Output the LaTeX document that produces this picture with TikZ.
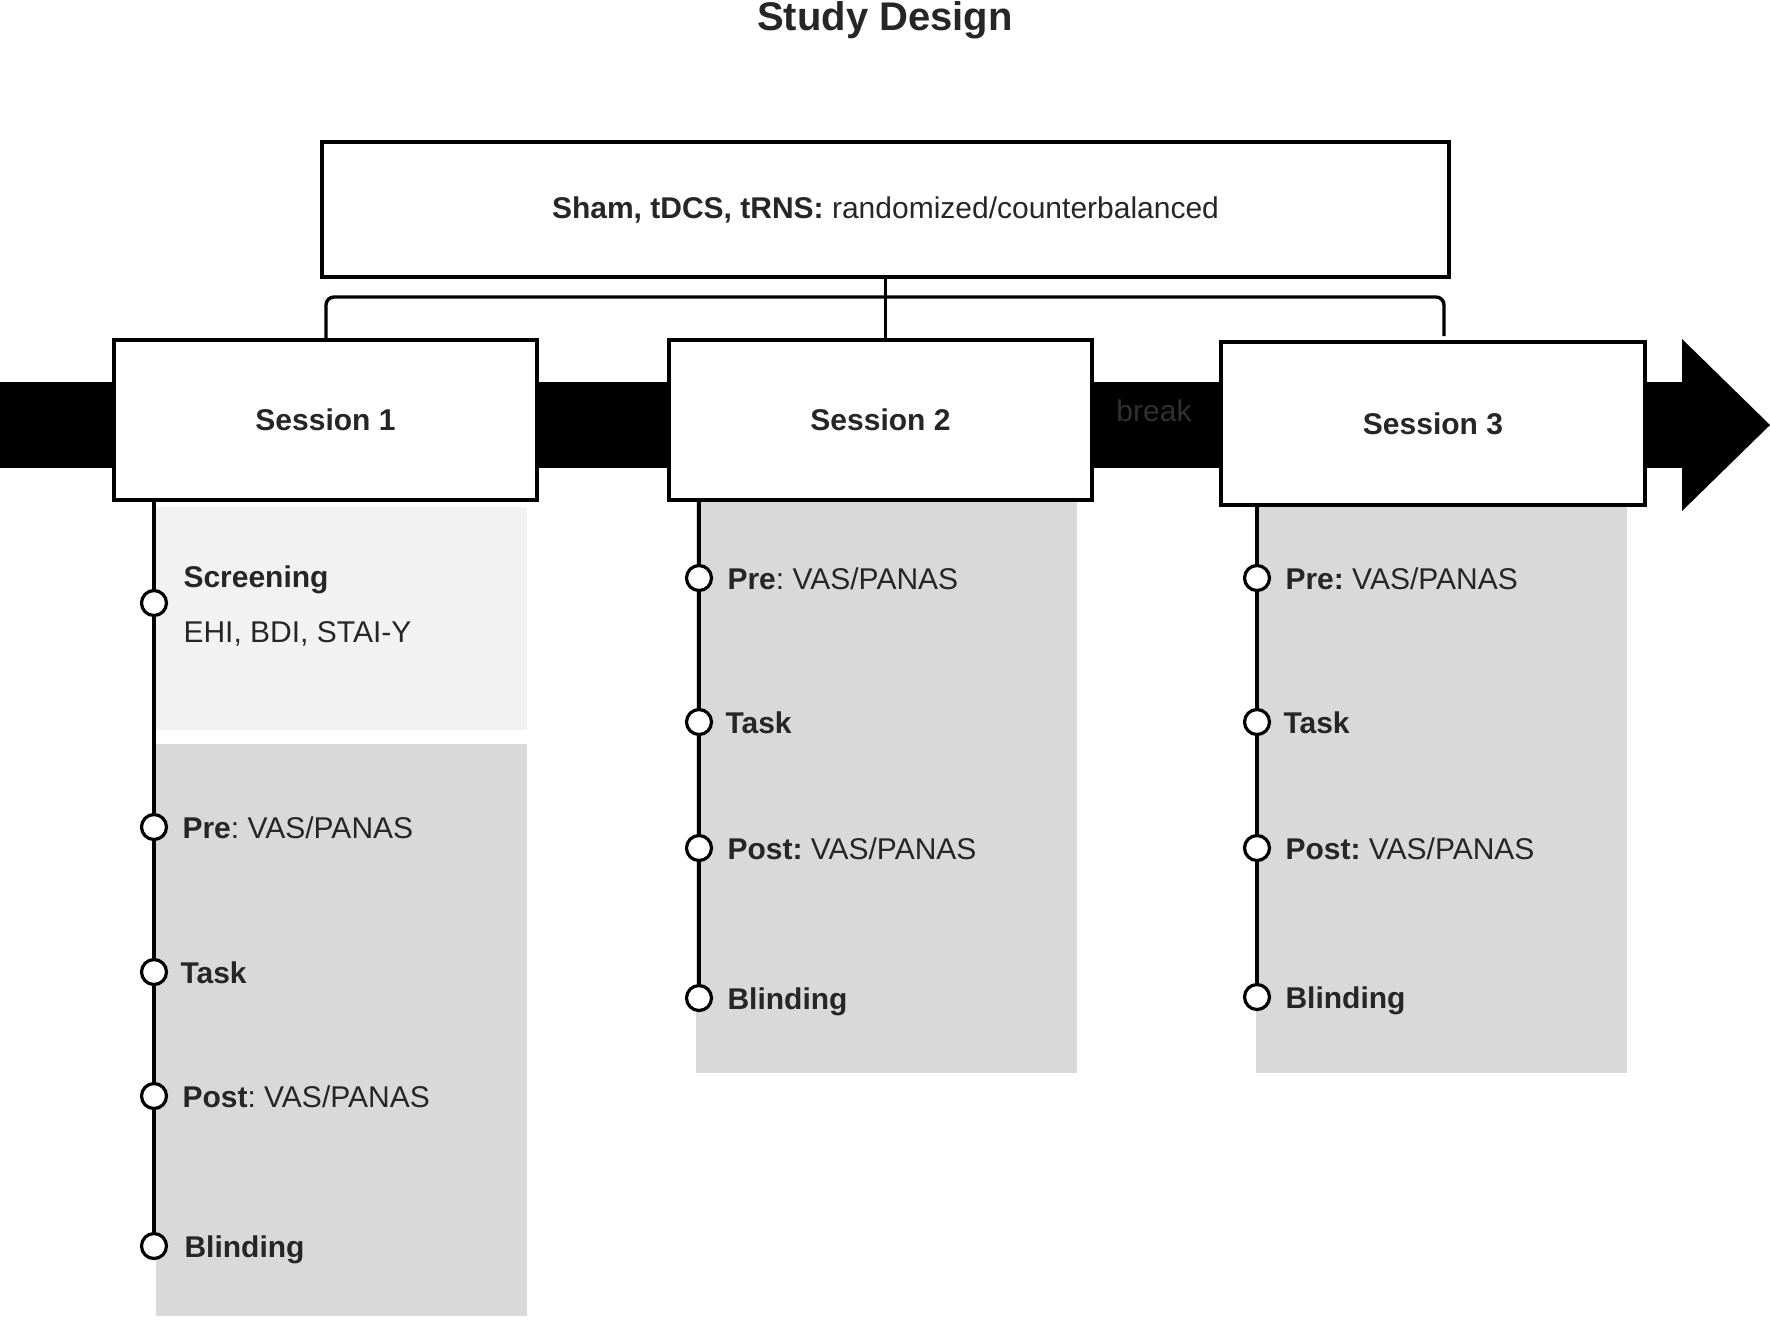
\documentclass[tikz,border=0pt]{standalone}
\usepackage{fontspec}
\setmainfont{Liberation Sans}
\usetikzlibrary{calc}
\frenchspacing
\definecolor{ink}{RGB}{38,38,38}
\definecolor{panelgray}{RGB}{217,217,217}
\definecolor{screengray}{RGB}{242,242,242}
\definecolor{breakgray}{RGB}{48,48,48}
\tikzset{
  sessbox/.style={draw, fill=white, line width=1.8pt, minimum width=211.5pt,
    minimum height=80pt, font=\fontsize{15}{18}\selectfont\bfseries, text=ink},
  dot/.style={circle, draw, fill=white, line width=1.6pt, minimum size=12.5pt, inner sep=0pt},
  lbl/.style={anchor=base west, inner sep=0pt, font=\fontsize{15}{18}\selectfont, text=ink},
  link/.style={line width=1.7pt},
}
\begin{document}
\begin{tikzpicture}[x=0.5pt,y=-0.5pt]
\useasboundingbox (0,0) rectangle (1770,1319);
\node[anchor=base, font=\fontsize{20}{24}\selectfont\bfseries, text=ink] (title) at (885,30) {Study Design};
% gray panels behind the timelines
\fill[screengray] (156,507) rectangle (527,730);
\fill[panelgray] (156,744) rectangle (527,1316);
\fill[panelgray] (696,502) rectangle (1077,1073);
\fill[panelgray] (1256,507) rectangle (1627,1073);
% time arrow
\fill (0,382) rectangle (1682,468);
\fill (1682,339) -- (1770,425) -- (1682,511) -- cycle;
\node[font=\fontsize{15}{18}\selectfont, text=breakgray] (brk) at (1154,411) {break};
\node[draw, line width=1.8pt, minimum width=563.5pt, minimum height=67.5pt,
  font=\fontsize{15}{18}\selectfont, text=ink] (design) at (885.5,209.5)
  {\textbf{Sham, tDCS, tRNS:} randomized/counterbalanced};
\node[sessbox] (sess1) at (325.5,420) {Session 1};
\node[sessbox] (sess2) at (880.5,420) {Session 2};
\node[sessbox, minimum width=212pt, minimum height=81.5pt] (sess3) at (1433,423.5) {Session 3};
\draw[link] (design.south) -- (design.south |- sess2.north);
\draw[link, rounded corners=4pt] (326,0 |- sess1.north) |- (885,297) -| (1444,336);
% session 1
\foreach \n/\y in {a/603,b/827,c/972,d/1096,e/1246}
  \node[dot] (s1\n) at (154,\y) {};
\draw[link] (sess1.south -| s1a) -- (s1a);
\foreach \p/\q in {a/b,b/c,c/d,d/e}
  \draw[link] (s1\p) -- (s1\q);
\node[lbl] (t1h) at ([shift={(7.5pt,8pt)}]s1a.east) {\textbf{Screening}};
\node[lbl] (t1s) at ([shift={(7.5pt,-19.5pt)}]s1a.east) {EHI, BDI, STAI-Y};
\node[lbl] (t1a) at ([shift={(7pt,-5.5pt)}]s1b.east) {\textbf{Pre}: VAS/PANAS};
\node[lbl] (t1b) at ([shift={(6pt,-5.5pt)}]s1c.east) {\textbf{Task}};
\node[lbl] (t1c) at ([shift={(7pt,-5.5pt)}]s1d.east) {\textbf{Post}: VAS/PANAS};
\node[lbl] (t1d) at ([shift={(8pt,-5.5pt)}]s1e.east) {\textbf{Blinding}};
% session 2
\foreach \n/\y in {a/578,b/722,c/848,d/998}
  \node[dot] (s2\n) at (699,\y) {};
\draw[link] (sess2.south -| s2a) -- (s2a);
\foreach \p/\q in {a/b,b/c,c/d}
  \draw[link] (s2\p) -- (s2\q);
\node[lbl] (t2a) at ([shift={(7pt,-5.5pt)}]s2a.east) {\textbf{Pre}: VAS/PANAS};
\node[lbl] (t2b) at ([shift={(6pt,-5.5pt)}]s2b.east) {\textbf{Task}};
\node[lbl] (t2c) at ([shift={(7pt,-5.5pt)}]s2c.east) {\textbf{Post:} VAS/PANAS};
\node[lbl] (t2d) at ([shift={(7pt,-5.5pt)}]s2d.east) {\textbf{Blinding}};
% session 3
\foreach \n/\y in {a/578,b/722,c/848,d/997}
  \node[dot] (s3\n) at (1257,\y) {};
\draw[link] (sess3.south -| s3a) -- (s3a);
\foreach \p/\q in {a/b,b/c,c/d}
  \draw[link] (s3\p) -- (s3\q);
\node[lbl] (t3a) at ([shift={(7pt,-5.5pt)}]s3a.east) {\textbf{Pre:} VAS/PANAS};
\node[lbl] (t3b) at ([shift={(6pt,-5.5pt)}]s3b.east) {\textbf{Task}};
\node[lbl] (t3c) at ([shift={(7pt,-5.5pt)}]s3c.east) {\textbf{Post:} VAS/PANAS};
\node[lbl] (t3d) at ([shift={(7pt,-5.5pt)}]s3d.east) {\textbf{Blinding}};
\end{tikzpicture}
\end{document}
